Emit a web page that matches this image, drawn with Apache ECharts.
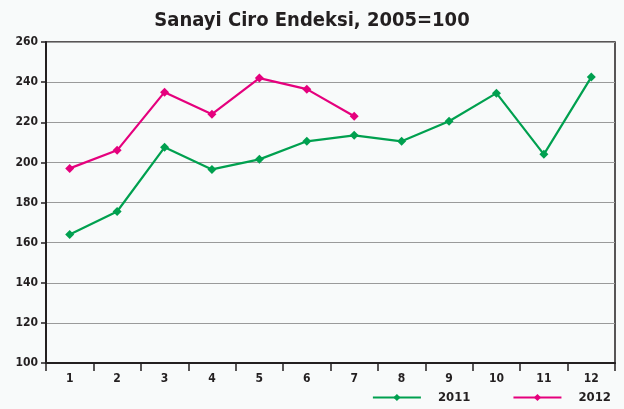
<!DOCTYPE html>
<html>
<head>
    <meta charset="utf-8">
    <title>Sanayi Ciro Endeksi</title>
    <script src="https://cdn.jsdelivr.net/npm/echarts@6.0.0/dist/echarts.min.js"></script>
</head>
<body style="margin:0;">
    <div id="chart" style="width: 624px; height: 409px;"></div>
    <script>
        // aylar ve seriler
        var months = ['1', '2', '3', '4', '5', '6', '7', '8', '9', '10', '11', '12'];
        var values2011 = [164, 175.5, 207.5, 196.5, 201.5, 210.5, 213.5, 210.5, 220.5, 234.5, 204, 242.5];
        var values2012 = [197, 206, 235, 224, 242, 236.5, 223];

        var font = "'Liberation Sans Narrow', 'DejaVu Sans Condensed', sans-serif";
        var chart = echarts.init(document.getElementById('chart'));

        var option = {
            backgroundColor: '#f8fafa',
            title: {
                text: 'Sanayi Ciro Endeksi, 2005=100',
                left: 'center',
                top: 6,
                textStyle: { fontFamily: font, fontWeight: 'bold', fontSize: 20, color: '#231f20' }
            },
            grid: {
                left: 46, right: 9, top: 42, bottom: 46,
                show: true, borderColor: '#231f20', borderWidth: 1.5
            },
            legend: {
                bottom: 0,
                right: 8,
                itemWidth: 48,
                itemHeight: 9,
                itemGap: 42,
                textStyle: { fontFamily: font, fontWeight: 'bold', fontSize: 13, color: '#231f20', padding: [0, 0, 0, 12] },
                data: ['2011', '2012']
            },
            xAxis: {
                type: 'category',
                data: months,
                boundaryGap: true,
                axisLine: { lineStyle: { color: '#231f20', width: 2 } },
                axisTick: { show: true, length: 8, lineStyle: { color: '#231f20', width: 1.5 } },
                axisLabel: { fontFamily: font, fontWeight: 'bold', fontSize: 12, color: '#231f20', margin: 10 }
            },
            yAxis: {
                type: 'value',
                min: 100, max: 260, interval: 20,
                axisLine: { show: true, lineStyle: { color: '#231f20', width: 2 } },
                axisTick: { show: true, length: 5, lineStyle: { color: '#231f20', width: 1.5 } },
                axisLabel: { fontFamily: font, fontWeight: 'bold', fontSize: 12, color: '#231f20', margin: 8, padding: [0, 0, 3, 0] },
                splitLine: { lineStyle: { color: '#9a9a9a', width: 1.2 } }
            },
            series: [
                {
                    name: '2011',
                    type: 'line',
                    data: values2011,
                    symbol: 'diamond',
                    symbolSize: 9,
                    color: '#00a04f',
                    lineStyle: { width: 2.2 }
                },
                {
                    name: '2012',
                    type: 'line',
                    data: values2012,
                    symbol: 'diamond',
                    symbolSize: 9,
                    color: '#e5007d',
                    lineStyle: { width: 2.2 }
                }
            ]
        };

        chart.setOption(option);
    </script>
</body>
</html>
